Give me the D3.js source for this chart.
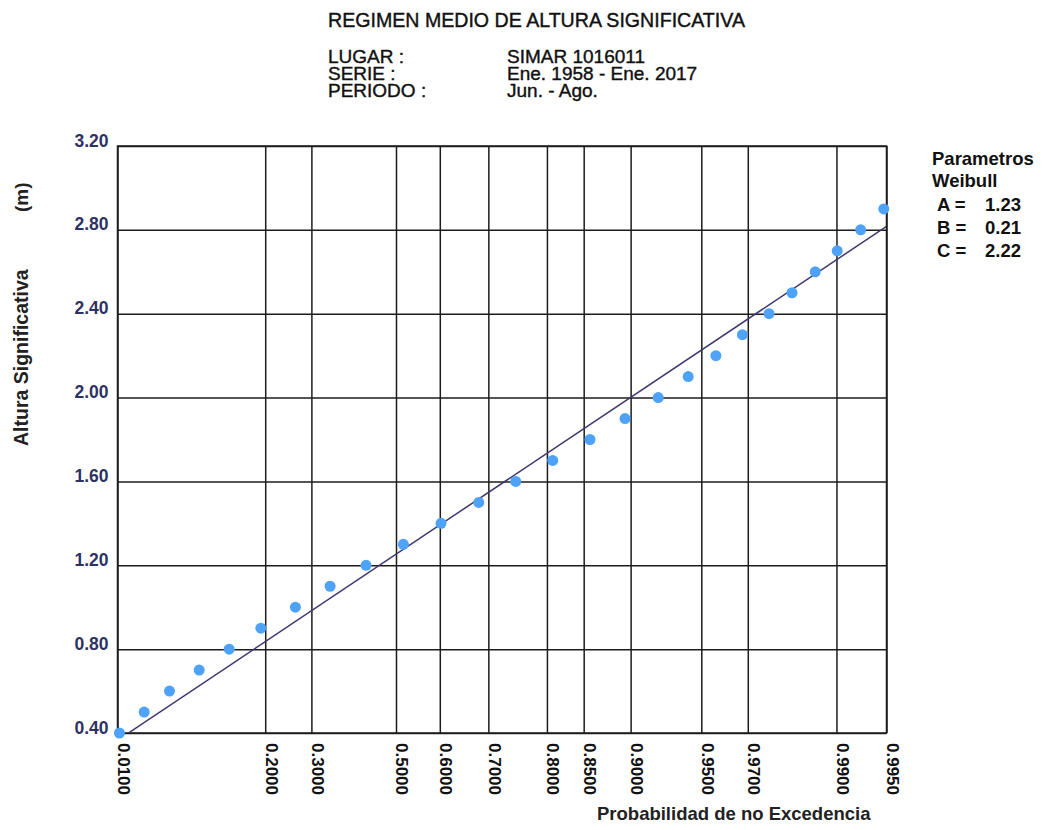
<!DOCTYPE html>
<html>
<head>
<meta charset="utf-8">
<script src="https://cdn.jsdelivr.net/npm/d3@7"></script>
<style>
  body { margin: 0; background: #fff; }
  text { font-family: "Liberation Sans", Arial, sans-serif; }
</style>
</head>
<body>
<script>
// Weibull parameters (legend values)
const paramA = 1.23, paramB = 0.21, paramC = 2.22;

// x tick labels (probabilidad de no excedencia)
const probTicks = [0.01, 0.2, 0.3, 0.5, 0.6, 0.7, 0.8, 0.85, 0.9, 0.95, 0.97, 0.99, 0.995];
// y tick labels (m)
const heightTicks = [0.4, 0.8, 1.2, 1.6, 2.0, 2.4, 2.8, 3.2];

// observed points
const heights = [0.4, 0.5, 0.6, 0.7, 0.8, 0.9, 1.0, 1.1, 1.2, 1.3, 1.4, 1.5, 1.6,
  1.7, 1.8, 1.9, 2.0, 2.1, 2.2, 2.3, 2.4, 2.5, 2.6, 2.7, 2.8, 2.9];
const probs = [0.0109, 0.0262, 0.0493, 0.0859, 0.1326, 0.1912, 0.2640, 0.3434, 0.4289,
  0.5173, 0.6027, 0.6814, 0.7498, 0.8085, 0.8576, 0.8948, 0.9228, 0.9427, 0.9572,
  0.9681, 0.9766, 0.9823, 0.9868, 0.9901, 0.9928, 0.9948];

const headerLabels = ["LUGAR :", "SERIE :", "PERIODO :"];
const headerValues = ["SIMAR 1016011", "Ene. 1958 - Ene. 2017", "Jun. - Ago."];

const W = 1048, H = 830;
const margin = { top: 146, right: 161.5, bottom: 97, left: 117.5 };
const width = W - margin.left - margin.right,
  height = H - margin.top - margin.bottom;

// weibull probability paper transform
const weib = (p) => Math.pow(-Math.log(1 - p), 1 / paramC);

const svg = d3.select("body").append("svg").attr("width", W).attr("height", H);

const xScale = d3.scaleLinear()
  .domain([weib(probTicks[0]), weib(probTicks[probTicks.length - 1])])
  .range([0, width]);
const yScale = d3.scaleLinear()
  .domain([heightTicks[0], heightTicks[heightTicks.length - 1]])
  .range([height, 0]);

const g = svg.append("g").attr("transform", `translate(${margin.left},${margin.top})`);

// y axis + horizontal grid
g.append("g")
  .call(d3.axisLeft(yScale).tickValues(heightTicks).tickSize(-width).tickPadding(9)
    .tickFormat(d3.format(".2f")))
  .call((a) => {
    a.select(".domain").remove();
    a.selectAll("line").attr("stroke", "#1c1c1c").attr("stroke-width", 1.5);
    a.selectAll("text").attr("dy", 0).attr("fill", "#2e3262")
      .style("font-size", "17.5px").style("font-weight", "bold");
  });

// x axis + vertical grid
g.append("g")
  .attr("transform", `translate(0,${height})`)
  .call(d3.axisBottom(xScale).tickValues(probTicks.map(weib)).tickSize(-height)
    .tickFormat((d, i) => d3.format(".4f")(probTicks[i])))
  .call((a) => {
    a.select(".domain").remove();
    a.selectAll("line").attr("stroke", "#1c1c1c").attr("stroke-width", 1.5);
    a.selectAll("text")
      .attr("transform", "rotate(90)")
      .attr("x", 10).attr("y", 0).attr("dy", 0)
      .style("text-anchor", "start")
      .attr("fill", "#111")
      .style("font-size", "17px").style("font-weight", "bold");
  });

// frame
g.append("rect")
  .attr("width", width).attr("height", height)
  .attr("fill", "none").attr("stroke", "#1c1c1c").attr("stroke-width", 1.5);

// fitted line
g.append("clipPath").attr("id", "plotClip")
  .append("rect").attr("width", width).attr("height", height);

const line = d3.line()
  .x((t) => xScale(t))
  .y((t) => yScale(paramB + paramA * t));

g.append("path")
  .datum(xScale.domain())
  .attr("clip-path", "url(#plotClip)")
  .attr("d", line)
  .attr("fill", "none")
  .attr("stroke", "#3d3a70")
  .attr("stroke-width", 1.5);

// points
g.selectAll("circle.pt")
  .data(heights)
  .join("circle")
  .attr("class", "pt")
  .attr("cx", (d, i) => xScale(weib(probs[i])))
  .attr("cy", (d) => yScale(d))
  .attr("r", 5.5)
  .attr("fill", "#4ea3f8");

// titles
svg.append("text")
  .attr("x", 328).attr("y", 27)
  .attr("fill", "#111").attr("stroke", "#111").attr("stroke-width", 0.4)
  .style("font-size", "19.6px")
  .text("REGIMEN MEDIO DE ALTURA SIGNIFICATIVA");

const header = svg.append("g")
  .attr("fill", "#111").attr("stroke", "#111").attr("stroke-width", 0.4)
  .style("font-size", "19px");
header.selectAll("text.lbl")
  .data(headerLabels)
  .join("text")
  .attr("class", "lbl")
  .attr("x", 328)
  .attr("y", (d, i) => 63 + i * 17)
  .text((d) => d);
header.selectAll("text.val")
  .data(headerValues)
  .join("text")
  .attr("class", "val")
  .attr("x", 507)
  .attr("y", (d, i) => 63 + i * 17)
  .text((d) => d);

// axis titles
svg.append("text")
  .attr("transform", "translate(28,446) rotate(-90)")
  .attr("fill", "#222")
  .style("font-size", "19.5px").style("font-weight", "bold")
  .text("Altura Significativa");

svg.append("text")
  .attr("transform", "translate(28,212) rotate(-90)")
  .attr("fill", "#222")
  .style("font-size", "19px").style("font-weight", "bold")
  .text("(m)");

svg.append("text")
  .attr("x", 597).attr("y", 820)
  .attr("fill", "#222")
  .style("font-size", "18.5px").style("font-weight", "bold")
  .text("Probabilidad de no Excedencia");

// weibull parameters box
const legend = svg.append("g").attr("fill", "#111")
  .style("font-size", "18.5px").style("font-weight", "bold");
legend.append("text").attr("x", 932).attr("y", 165).text("Parametros");
legend.append("text").attr("x", 932).attr("y", 187).text("Weibull");
const paramRows = [["A =", paramA], ["B =", paramB], ["C =", paramC]];
legend.selectAll("text.pn")
  .data(paramRows)
  .join("text")
  .attr("class", "pn")
  .attr("x", 937)
  .attr("y", (d, i) => 211 + i * 23)
  .text((d) => d[0]);
legend.selectAll("text.pv")
  .data(paramRows)
  .join("text")
  .attr("class", "pv")
  .attr("x", 985)
  .attr("y", (d, i) => 211 + i * 23)
  .text((d) => d3.format(".2f")(d[1]));
</script>
</body>
</html>
